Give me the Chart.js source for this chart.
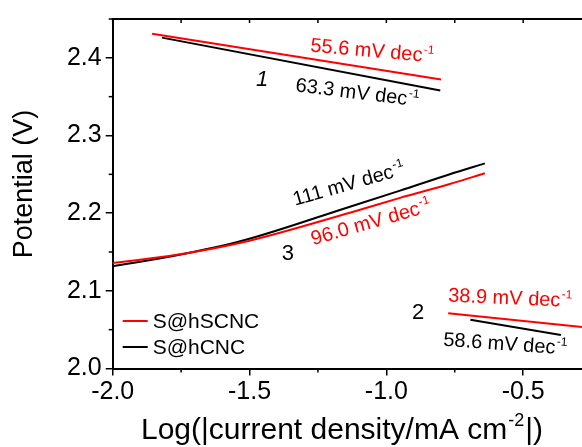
<!DOCTYPE html>
<html>
<head>
<meta charset="utf-8">
<script src="https://cdn.jsdelivr.net/npm/chart.js@4.4.1/dist/chart.umd.min.js"></script>
<style>
  html, body { margin: 0; padding: 0; background: #fff; }
  #wrap { width: 582px; height: 447px; }
</style>
</head>
<body>
<div id="wrap"><canvas id="tafel" width="582" height="447"></canvas></div>
<script>
// Tafel fits, region 1 (upper plateau)
const hscncHighX = [-1.856, -0.800];
const hscncHighY = [2.431, 2.372];
const hcncHighX = [-1.820, -0.803];
const hcncHighY = [2.426, 2.358];

// region 3 (middle, curved)
const midX = [-2.0, -1.765, -1.524, -1.133, -0.950, -0.768, -0.640];
const hscncMidY = [2.1359, 2.1464, 2.1625, 2.2006, 2.2197, 2.2375, 2.2514];
const hcncMidY = [2.1317, 2.1457, 2.1647, 2.2083, 2.2290, 2.2502, 2.2641];

// region 2 (lower plateau)
const hscncLowX = [-0.774, -0.285];
const hscncLowY = [2.0712, 2.0534];
const hcncLowX = [-0.693, -0.362];
const hcncLowY = [2.0627, 2.0432];

const xTicks = [-2.0, -1.5, -1.0, -0.5];
const yTicks = [2.0, 2.1, 2.2, 2.3, 2.4];
const xMinor = [-1.75, -1.25, -0.75];
const yMinor = [2.05, 2.15, 2.25, 2.35, 2.45];

const RED = '#ff0000';
const BLACK = '#000000';
const FONT = '"Liberation Sans", Arial, sans-serif';

// slope labels: [text, sup, color, x, y, angle(deg)]
const notes = [
  ['55.6 mV dec', '-1', RED, -1.279, 2.408, 5],
  ['63.3 mV dec', '-1', BLACK, -1.334, 2.357, 7],
  ['111 mV dec', '-1', BLACK, -1.334, 2.2095, -16],
  ['96.0 mV dec', '-1', RED, -1.268, 2.1587, -16],
  ['38.9 mV dec', '-1', RED, -0.775, 2.0863, 2.5],
  ['58.6 mV dec', '-1', BLACK, -0.793, 2.0292, 4]
];
const regionLabels = [['1', -1.454, 2.372, true], ['2', -0.884, 2.071, false], ['3', -1.360, 2.147, false]];

function pts(xs, ys) {
  return xs.map((x, i) => ({ x: x, y: ys[i] }));
}

function line(data, color, smooth) {
  return {
    data: data,
    borderColor: color,
    borderWidth: 2,
    pointRadius: 0,
    fill: false,
    tension: smooth ? 0.4 : 0,
    cubicInterpolationMode: smooth ? 'monotone' : 'default'
  };
}

// draw text with a superscript at baseline-left anchor
function richText(ctx, x, y, angle, main, sup, color, size) {
  ctx.save();
  ctx.translate(x, y);
  ctx.rotate(angle * Math.PI / 180);
  ctx.fillStyle = color;
  ctx.textBaseline = 'alphabetic';
  ctx.textAlign = 'left';
  ctx.font = size + 'px ' + FONT;
  ctx.fillText(main, 0, 0);
  const w = ctx.measureText(main).width;
  ctx.font = Math.round(size * 0.62) + 'px ' + FONT;
  ctx.fillText(sup, w + 1, -size * 0.42);
  ctx.restore();
}

const decor = {
  id: 'decor',
  afterDraw(chart) {
    const ctx = chart.ctx;
    const xs = chart.scales.x, ys = chart.scales.y;
    const a = chart.chartArea;
    ctx.save();
    ctx.strokeStyle = BLACK;
    ctx.lineWidth = 2;
    // top frame
    ctx.beginPath();
    ctx.moveTo(a.left - 1, a.top);
    ctx.lineTo(a.right, a.top);
    ctx.stroke();
    ctx.lineWidth = 1.5;
    // minor ticks bottom + top ticks
    xMinor.forEach(v => {
      const px = xs.getPixelForValue(v);
      ctx.beginPath();
      ctx.moveTo(px, a.bottom);
      ctx.lineTo(px, a.bottom + 4);
      ctx.stroke();
    });
    xTicks.concat(xMinor).forEach(v => {
      const px = xs.getPixelForValue(v);
      ctx.beginPath();
      ctx.moveTo(px, a.top);
      ctx.lineTo(px, a.top + 4);
      ctx.stroke();
    });
    yMinor.forEach(v => {
      const py = ys.getPixelForValue(v);
      ctx.beginPath();
      ctx.moveTo(a.left, py);
      ctx.lineTo(a.left - 4, py);
      ctx.stroke();
    });

    // slope annotations
    notes.forEach(n => {
      richText(ctx, xs.getPixelForValue(n[3]), ys.getPixelForValue(n[4]), n[5], n[0], n[1], n[2], 20);
    });
    regionLabels.forEach(r => {
      ctx.fillStyle = BLACK;
      ctx.font = (r[3] ? 'italic ' : '') + '22px ' + FONT;
      ctx.textAlign = 'center';
      ctx.textBaseline = 'middle';
      ctx.fillText(r[0], xs.getPixelForValue(r[1]), ys.getPixelForValue(r[2]));
    });

    // legend
    const legend = [['S@hSCNC', RED], ['S@hCNC', BLACK]];
    legend.forEach((l, i) => {
      const ly = 321 + i * 26;
      ctx.strokeStyle = l[1];
      ctx.lineWidth = 2;
      ctx.beginPath();
      ctx.moveTo(a.left + 10, ly);
      ctx.lineTo(a.left + 35, ly);
      ctx.stroke();
      ctx.fillStyle = BLACK;
      ctx.font = '21px ' + FONT;
      ctx.textAlign = 'left';
      ctx.textBaseline = 'middle';
      ctx.fillText(l[0], a.left + 40, ly + 1);
    });

    // axis titles
    ctx.fillStyle = BLACK;
    ctx.save();
    ctx.translate(25, 184);
    ctx.rotate(-Math.PI / 2);
    ctx.font = '27px ' + FONT;
    ctx.textAlign = 'center';
    ctx.textBaseline = 'middle';
    ctx.fillText('Potential (V)', 0, 0);
    ctx.restore();

    const t1 = 'Log(|current density/mA cm', t2 = '-2', t3 = '|)';
    ctx.font = '30px ' + FONT;
    const w1 = ctx.measureText(t1).width, w3 = ctx.measureText(t3).width;
    ctx.font = '18px ' + FONT;
    const w2 = ctx.measureText(t2).width;
    let tx = 342 - (w1 + w2 + w3 + 2) / 2;
    const ty = 439;
    ctx.textAlign = 'left';
    ctx.textBaseline = 'alphabetic';
    ctx.font = '30px ' + FONT;
    ctx.fillText(t1, tx, ty);
    ctx.font = '18px ' + FONT;
    ctx.fillText(t2, tx + w1 + 1, ty - 13);
    ctx.font = '30px ' + FONT;
    ctx.fillText(t3, tx + w1 + w2 + 2, ty);
    ctx.restore();
  }
};

new Chart(document.getElementById('tafel'), {
  type: 'line',
  data: {
    datasets: [
      line(pts(hscncHighX, hscncHighY), RED, false),
      line(pts(hcncHighX, hcncHighY), BLACK, false),
      line(pts(midX, hscncMidY), RED, true),
      line(pts(midX, hcncMidY), BLACK, true),
      line(pts(hscncLowX, hscncLowY), RED, false),
      line(pts(hcncLowX, hcncLowY), BLACK, false)
    ]
  },
  options: {
    responsive: false,
    animation: false,
    layout: { padding: { top: 14, right: 0, left: 0, bottom: 0 } },
    plugins: { legend: { display: false }, tooltip: { enabled: false } },
    scales: {
      x: {
        type: 'linear',
        min: -2.0,
        max: -0.285,
        afterBuildTicks: s => { s.ticks = xTicks.map(v => ({ value: v })); },
        afterFit: s => { s.height = 78.5; },
        grid: { drawOnChartArea: false, drawTicks: true, tickLength: 7, color: BLACK, lineWidth: 1.5 },
        border: { display: true, color: BLACK, width: 2 },
        ticks: {
          color: BLACK,
          font: { family: FONT, size: 25 },
          padding: 2,
          maxRotation: 0,
          callback: v => v.toFixed(1)
        }
      },
      y: {
        type: 'linear',
        min: 2.0,
        max: 2.45,
        afterBuildTicks: s => { s.ticks = yTicks.map(v => ({ value: v })); },
        afterFit: s => { s.width = 112.7; },
        grid: { drawOnChartArea: false, drawTicks: true, tickLength: 7, color: BLACK, lineWidth: 1.5 },
        border: { display: true, color: BLACK, width: 2 },
        ticks: {
          color: BLACK,
          font: { family: FONT, size: 25 },
          padding: 4,
          callback: v => v.toFixed(1)
        }
      }
    }
  },
  plugins: [decor]
});
</script>
</body>
</html>
